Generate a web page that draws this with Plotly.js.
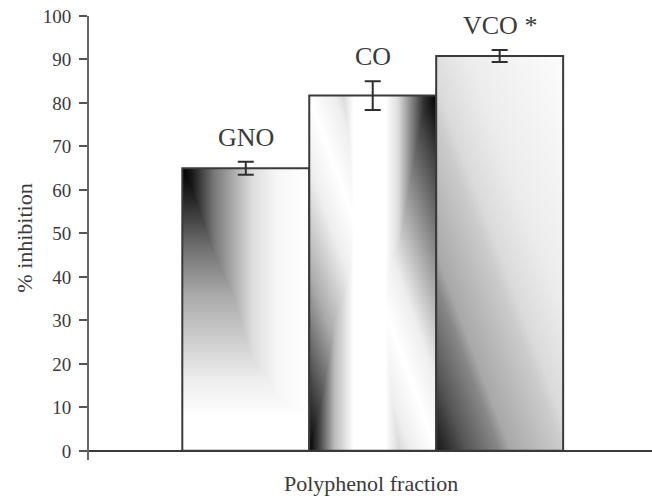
<!DOCTYPE html>
<html>
<head>
<meta charset="utf-8">
<script src="https://cdn.plot.ly/plotly-3.0.1.min.js"></script>
<style>html,body{margin:0;padding:0;background:#fff;}#chart{width:652px;height:496px;}</style>
</head>
<body>
<div id="chart"></div>
<script>
const categories = ["GNO", "CO", "VCO"];
const labels = ["GNO", "CO", "VCO *"];
const values = [65.0, 81.7, 90.8];
const errors = [1.5, 3.3, 1.4];
const yTicks = [0, 10, 20, 30, 40, 50, 60, 70, 80, 90, 100];

const font = "Liberation Serif, Times New Roman, serif";
const ink = "#3a3a3a";

const trace = {
  type: "bar",
  x: categories,
  y: values,
  width: 1,
  marker: {color: "#ffffff", line: {color: "#3a3a3a", width: 2}},
  error_y: {type: "data", array: errors, visible: true, color: "#2f2f2f", thickness: 2, width: 8},
  hoverinfo: "none"
};

const annotations = categories.map((c, i) => ({
  x: c, y: values[i] + errors[i], xref: "x", yref: "y",
  text: labels[i], showarrow: false, yanchor: "bottom", yshift: 8,
  font: {family: font, size: 26, color: ink}
}));
annotations.push({
  x: 0.5, y: 0, xref: "paper", yref: "paper", text: "Polyphenol fraction",
  showarrow: false, yanchor: "middle", yshift: -23,
  font: {family: font, size: 22, color: ink}
});

const layout = {
  width: 652, height: 496,
  margin: {l: 89, r: 0, t: 16, b: 36},
  paper_bgcolor: "#fff", plot_bgcolor: "#fff",
  showlegend: false,
  bargap: 0,
  xaxis: {
    type: "category", range: [-1.235, 3.2], showline: false, showgrid: false,
    zeroline: false, showticklabels: false, ticks: ""
  },
  yaxis: {
    range: [-2.1, 100], tickvals: yTicks, ticktext: yTicks.map(String),
    showline: true, linecolor: "#666", linewidth: 2,
    ticks: "outside", ticklen: 8, tickwidth: 2, tickcolor: "#555",
    showgrid: false, zeroline: true, zerolinecolor: "#3a3a3a", zerolinewidth: 2,
    tickfont: {family: font, size: 19, color: ink},
    ticklabelstandoff: 4,
    title: {text: "% inhibition", font: {family: font, size: 22, color: ink}, standoff: 4}
  },
  annotations: annotations
};

// gradient shading layers per bar (combined with "lighten")
const shading = [
  [
    {x1: 0, y1: 0, x2: 1, y2: 0, stops: [[0, "#000"], [0.08, "#1a1a1a"], [0.25, "#777"], [0.4, "#aaa"], [0.55, "#ddd"], [0.75, "#f7f7f7"], [1, "#fff"]]},
    {x1: 0, y1: 0, x2: 0, y2: 1, stops: [[0, "#000"], [0.1, "#222"], [0.3, "#777"], [0.45, "#aaa"], [0.6, "#ccc"], [0.75, "#eee"], [0.88, "#fff"], [1, "#fff"]]}
  ],
  [
    {x1: 0, y1: 0, x2: 1, y2: 0, stops: [[0, "#000"], [0.08, "#444"], [0.2, "#bbb"], [0.35, "#fff"], [0.6, "#fff"], [0.7, "#ddd"], [0.8, "#888"], [0.9, "#333"], [1, "#000"]]},
    {x1: 0, y1: 1, x2: 1, y2: 0, stops: [[0, "#000"], [0.1, "#444"], [0.25, "#aaa"], [0.4, "#eee"], [0.5, "#fff"], [0.6, "#eee"], [0.75, "#999"], [0.9, "#444"], [1, "#000"]]}
  ],
  [
    {x1: 0, y1: 1, x2: 0.912, y2: -0.075, stops: [[0, "#1c1c1c"], [0.03, "#262626"], [0.11, "#555"], [0.23, "#888"], [0.27, "#a8a8a8"], [0.46, "#ccc"], [0.5, "#dadada"], [0.65, "#ececec"], [1, "#fcfcfc"]]}
  ]
];

Plotly.newPlot("chart", [trace], layout, {staticPlot: true}).then(() => {
  const svg = document.querySelector("#chart .main-svg");
  const NS = "http://www.w3.org/2000/svg";
  let defs = svg.querySelector("defs");
  if (!defs) { defs = document.createElementNS(NS, "defs"); svg.insertBefore(defs, svg.firstChild); }
  function makeGrad(id, g) {
    const lg = document.createElementNS(NS, "linearGradient");
    lg.setAttribute("id", id);
    ["x1", "y1", "x2", "y2"].forEach(k => lg.setAttribute(k, g[k]));
    g.stops.forEach(s => {
      const st = document.createElementNS(NS, "stop");
      st.setAttribute("offset", s[0]);
      st.setAttribute("stop-color", s[1]);
      lg.appendChild(st);
    });
    defs.appendChild(lg);
  }
  document.querySelectorAll("#chart .bars .point path").forEach((p, i) => {
    const layers = shading[i] || [];
    let last = p;
    layers.forEach((g, j) => {
      const id = "shade" + i + "_" + j;
      makeGrad(id, g);
      let el = p;
      if (j > 0) {
        el = p.cloneNode(true);
        el.style.mixBlendMode = "lighten";
        last.parentNode.insertBefore(el, last.nextSibling);
        last = el;
      }
      el.style.fill = "url(#" + id + ")";
      el.style.stroke = "none";
    });
    const outline = p.cloneNode(true);
    outline.style.fill = "none";
    outline.style.stroke = "#3a3a3a";
    outline.style.strokeWidth = "2px";
    outline.style.mixBlendMode = "normal";
    last.parentNode.insertBefore(outline, last.nextSibling);
  });
});
</script>
</body>
</html>
